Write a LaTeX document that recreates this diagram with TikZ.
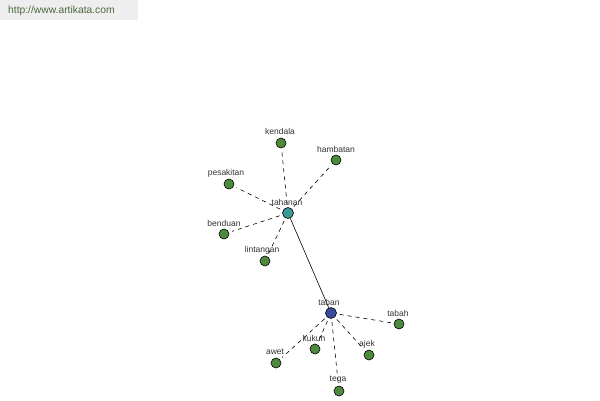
\documentclass[tikz,border=0pt]{standalone}
\usepackage{fontspec}
\setmainfont{Liberation Sans}
\begin{document}
\begin{tikzpicture}[x=1pt,y=-1pt,
  leaf/.style={circle,draw=black,line width=0.6pt,fill=leafgreen,minimum size=10pt,inner sep=0pt},
  hubA/.style={circle,draw=black,line width=0.6pt,fill=hubteal,minimum size=11pt,inner sep=0pt},
  hubB/.style={circle,draw=black,line width=0.6pt,fill=hubblue,minimum size=11pt,inner sep=0pt},
  lbl/.style={font=\fontsize{8.5}{10}\selectfont,text=black!80,inner sep=0pt},
  dashedge/.style={draw=black,dash pattern=on 4pt off 4pt,line width=0.6pt,shorten <=3pt,shorten >=3pt},
  solidedge/.style={draw=black,line width=0.6pt}]
\definecolor{leafgreen}{HTML}{4E8A3E}
\definecolor{hubteal}{HTML}{3A9A9A}
\definecolor{hubblue}{HTML}{3C4A9C}
\definecolor{urlgray}{HTML}{EEEEEE}
\definecolor{urltext}{HTML}{4A6A3A}
\useasboundingbox (0,0) rectangle (600,400);
\fill[white] (0,0) rectangle (600,400);
\fill[urlgray] (0,0) rectangle (138,20);
\node[font=\fontsize{10.3}{12}\selectfont,text=urltext,anchor=west,inner sep=0pt] (url) at (8,11) {http://www.artikata.com};
% hubs
\node[hubA] (tahanan) at (288,213) {};
\node[hubB] (taban) at (331,313) {};
% leaves of tahanan
\node[leaf] (kendala) at (281,143) {};
\node[leaf] (hambatan) at (336,160) {};
\node[leaf] (pesakitan) at (229,184) {};
\node[leaf] (benduan) at (224,234) {};
\node[leaf] (lintangan) at (265,261) {};
% leaves of taban
\node[leaf] (tabah) at (399,324) {};
\node[leaf] (kukuh) at (315,349) {};
\node[leaf] (awet) at (276,363) {};
\node[leaf] (ajek) at (369,355) {};
\node[leaf] (tega) at (339,391) {};
% edges
\foreach \n in {kendala,hambatan,pesakitan,benduan,lintangan}
  \draw[dashedge] (tahanan) -- (\n);
\foreach \n in {tabah,kukuh,awet,ajek,tega}
  \draw[dashedge] (taban) -- (\n);
\draw[solidedge] (tahanan) -- (taban);
% labels
\node[lbl] (ltahanan) at (287,202) {tahanan};
\node[lbl] (ltaban) at (329,302) {taban};
\node[lbl] (lkendala) at (280,131) {kendala};
\node[lbl] (lhambatan) at (336,149) {hambatan};
\node[lbl] (lpesakitan) at (226,173) {pesakitan};
\node[lbl] (lbenduan) at (224,223) {benduan};
\node[lbl] (llintangan) at (262,250) {lintangan};
\node[lbl] (ltabah) at (398,313) {tabah};
\node[lbl] (lkukuh) at (314,338) {kukuh};
\node[lbl] (lawet) at (275,352) {awet};
\node[lbl] (lajek) at (367,344) {ajek};
\node[lbl] (ltega) at (338,380) {tega};
\end{tikzpicture}
\end{document}
